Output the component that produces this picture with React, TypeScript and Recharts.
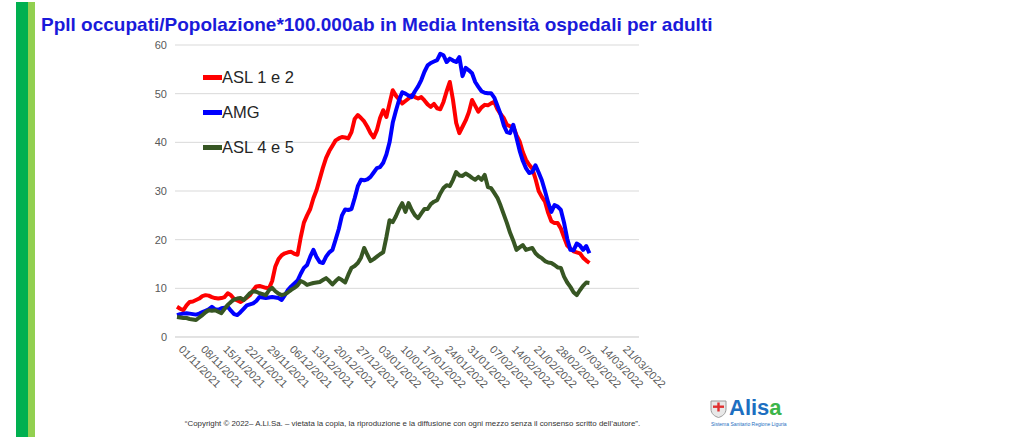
import React from 'react';
import { LineChart, Line, XAxis, YAxis, CartesianGrid, Legend } from 'recharts';

// daily categories 01/11/2021 .. 26/03/2022 (axis runs a bit past the data)
const FIRST_DAY = Date.UTC(2021, 10, 1);
const DAY_COUNT = 146;

const tickLabels = [
    '01/11/2021', '08/11/2021', '15/11/2021', '22/11/2021', '29/11/2021', '06/12/2021', '13/12/2021',
    '20/12/2021', '27/12/2021', '03/01/2022', '10/01/2022', '17/01/2022', '24/01/2022', '31/01/2022',
    '07/02/2022', '14/02/2022', '21/02/2022', '28/02/2022', '07/03/2022', '14/03/2022', '21/03/2022'
];

const yTicks = [0, 10, 20, 30, 40, 50, 60];

const asl12 = [
    6.2, 5.8, 5.5, 6.5, 7.2, 7.3, 7.6, 7.9, 8.4, 8.6, 8.5, 8.2, 8.0, 7.9, 8.0, 8.2, 9.0, 8.6, 7.8, 7.5,
    7.2, 7.6, 8.1, 8.6, 9.6, 10.4, 10.5, 10.3, 10.1, 10.0, 11.5, 14.5, 16.0, 16.8, 17.2, 17.4, 17.5, 17.1, 16.9, 20.5,
    23.5, 25.0, 26.3, 28.5, 30.2, 32.5, 34.8, 36.8, 38.2, 39.3, 40.4, 40.8, 41.1, 41.0, 40.8, 42.1, 44.8, 45.6, 45.0, 44.3,
    43.2, 41.9, 41.0, 42.5, 45.0, 46.6, 45.2, 48.0, 50.7, 49.6, 48.8, 48.0, 48.5, 49.0, 49.7, 49.3, 49.0, 49.3, 48.6, 47.8,
    47.3, 47.9, 47.0, 46.8, 48.3, 50.5, 52.4, 48.7, 44.0, 41.9, 43.2, 44.5, 46.2, 48.7, 47.5, 46.3, 47.2, 47.7, 47.6, 48.0,
    48.3, 46.8, 45.8, 45.0, 43.6, 43.3, 43.2, 41.5, 40.2, 38.0, 36.4, 35.4, 34.6, 32.5, 30.0, 28.8, 27.8, 25.5, 23.8, 23.4,
    23.4, 22.3, 20.5, 18.8, 18.2, 17.6, 17.4, 17.2, 16.3, 15.7, 15.2
];

const amg = [
    4.5, 4.7, 4.8, 4.9, 4.8, 4.7, 4.6, 4.8, 5.1, 5.4, 5.7, 6.2, 5.7, 5.6, 5.9, 6.0, 6.2, 5.4, 4.7, 4.5,
    5.1, 5.8, 6.5, 6.7, 6.9, 7.4, 8.2, 8.1, 8.0, 8.1, 8.2, 8.1, 8.0, 7.6, 8.6, 9.7, 10.4, 11.0, 11.6, 13.0,
    14.2, 14.8, 16.5, 17.9, 16.4, 15.4, 15.2, 16.5, 17.4, 17.9, 20.0, 22.2, 25.0, 26.2, 26.1, 26.3, 28.5, 31.0, 32.3, 32.2,
    32.4, 32.9, 33.8, 34.7, 34.9, 35.8, 37.5, 40.0, 44.0, 46.5, 48.7, 50.3, 50.0, 49.6, 49.3, 50.5, 51.5, 52.8, 54.5, 55.8,
    56.3, 56.6, 56.9, 58.2, 57.9, 56.5, 57.2, 56.8, 56.5, 57.5, 53.6, 55.3, 54.8, 54.2, 52.4, 51.4, 50.5, 50.2, 50.1, 50.1,
    49.2, 47.5, 45.8, 43.5, 42.1, 41.9, 43.6, 41.0, 38.3, 36.2, 34.7, 33.7, 33.9, 35.3, 33.8, 32.2, 30.0, 27.6, 25.7, 27.1,
    26.8, 26.1, 23.5, 20.2, 17.9, 17.8, 19.2, 18.8, 17.9, 18.7, 17.2
];

const asl45 = [
    4.1, 4.0, 3.9, 3.9, 3.7, 3.6, 3.5, 4.0, 4.5, 5.1, 5.5, 5.4, 5.5, 5.2, 4.9, 5.8, 6.6, 7.2, 7.7, 7.9,
    8.0, 7.6, 8.3, 9.0, 9.4, 9.3, 9.0, 8.8, 8.6, 9.6, 10.1, 9.4, 8.9, 8.6, 8.8, 9.2, 9.7, 10.1, 10.6, 11.5,
    11.2, 10.7, 10.9, 11.1, 11.2, 11.3, 11.7, 12.1, 11.5, 10.8, 11.5, 12.1, 11.7, 11.2, 12.8, 14.2, 14.6, 15.2, 16.3, 18.3,
    16.9, 15.6, 16.0, 16.5, 17.0, 17.4, 20.5, 24.0, 23.6, 24.8, 26.3, 27.5, 25.7, 27.5, 26.1, 25.0, 24.4, 25.4, 26.3, 26.3,
    27.3, 27.8, 28.1, 29.5, 30.6, 31.2, 31.0, 32.3, 33.9, 33.2, 33.1, 33.6, 33.2, 32.7, 32.3, 32.9, 32.3, 33.3, 30.8, 30.6,
    29.6, 28.6, 27.0, 25.2, 23.4, 21.4, 19.8, 17.9, 18.4, 18.9, 17.9, 18.1, 18.3, 17.2, 16.6, 16.2, 15.6, 15.3, 15.2, 14.8,
    14.3, 14.2, 12.4, 11.2, 10.3, 9.2, 8.6, 9.6, 10.5, 11.2, 11.1
];

const seriesNames = ['ASL 1 e 2', 'AMG', 'ASL 4 e 5'];
const seriesColors = ['#ff0000', '#0000ff', '#375623'];

const pad = (n: number) => (n < 10 ? '0' + n : '' + n);

const data = Array.from({ length: DAY_COUNT }, (_, i) => {
    const d = new Date(FIRST_DAY + i * 86400000);
    return {
        date: `${pad(d.getUTCDate())}/${pad(d.getUTCMonth() + 1)}/${d.getUTCFullYear()}`,
        asl12: asl12[i] ?? null,
        amg: amg[i] ?? null,
        asl45: asl45[i] ?? null
    };
});

const font = '"Liberation Sans", Arial, sans-serif';

const DateTick = ({ x, y, payload }: any) => (
    <g transform={`translate(${x + 1},${y + 5}) rotate(45)`}>
        <text x={0} y={0} textAnchor="start" fontSize={11} fill="#595959" fontFamily={font}>
            {payload.value}
        </text>
    </g>
);

const LegendBox = () => (
    <div style={{ fontFamily: font, fontSize: 16.5, color: '#262626' }}>
        {seriesNames.map((name, i) => (
            <div key={name} style={{ display: 'flex', alignItems: 'center', height: 35 }}>
                <span style={{ display: 'inline-block', width: 19, height: 5, background: seriesColors[i] }} />
                <span style={{ whiteSpace: 'nowrap' }}>{name}</span>
            </div>
        ))}
    </div>
);

export default function App() {
    return (
        <div style={{ position: 'absolute', left: 0, top: 0, width: 1024, height: 443, background: '#fff', overflow: 'hidden' }}>
            <div style={{ position: 'absolute', left: 16, top: 2, width: 12, height: 435, background: '#00b050' }} />
            <div style={{ position: 'absolute', left: 28, top: 2, width: 7, height: 435, background: '#92d050' }} />
            <div style={{
                position: 'absolute', left: 41, top: 13, fontFamily: font, fontWeight: 'bold', fontSize: 19,
                lineHeight: '23px', color: '#1a1ada', whiteSpace: 'nowrap'
            }}>
                Ppll occupati/Popolazione*100.000ab in Media Intensità ospedali per adulti
            </div>

            <div style={{ position: 'absolute', left: 0, top: 0 }}>
                <LineChart width={700} height={400} data={data} margin={{ top: 45, right: 61, bottom: 3, left: 145 }}>
                    <CartesianGrid vertical={false} stroke="#d9d9d9" />
                    <XAxis
                        dataKey="date"
                        ticks={tickLabels}
                        interval={0}
                        tick={<DateTick />}
                        tickLine={false}
                        axisLine={{ stroke: '#d9d9d9' }}
                        height={60}
                        padding={{ left: 2, right: 2 }}
                    />
                    <YAxis
                        width={30}
                        domain={[0, 60]}
                        ticks={yTicks}
                        axisLine={false}
                        tickLine={false}
                        tick={{ fontSize: 11, fill: '#595959', fontFamily: font }}
                    />
                    <Legend
                        layout="vertical"
                        align="center"
                        verticalAlign="middle"
                        content={<LegendBox />}
                        wrapperStyle={{ left: 203, top: 60, width: 'auto', height: 'auto' }}
                    />
                    <Line dataKey="asl12" name={seriesNames[0]} stroke={seriesColors[0]} strokeWidth={4} dot={false} strokeLinejoin="round" isAnimationActive={false} />
                    <Line dataKey="amg" name={seriesNames[1]} stroke={seriesColors[1]} strokeWidth={4} dot={false} strokeLinejoin="round" isAnimationActive={false} />
                    <Line dataKey="asl45" name={seriesNames[2]} stroke={seriesColors[2]} strokeWidth={4} dot={false} strokeLinejoin="round" isAnimationActive={false} />
                </LineChart>
            </div>

            <div style={{
                position: 'absolute', left: 160, top: 419, width: 505, textAlign: 'center', fontFamily: font,
                fontSize: 7.9, color: '#333', whiteSpace: 'nowrap'
            }}>
                “Copyright © 2022– A.Li.Sa. – vietata la copia, la riproduzione e la diffusione con ogni mezzo senza il consenso scritto dell’autore”.
            </div>

            <svg style={{ position: 'absolute', left: 710, top: 400 }} width={17} height={18} viewBox="0 0 17 18">
                <path d="M1 1 H16 V9 C16 14 12 16.5 8.5 17.5 C5 16.5 1 14 1 9 Z" fill="#e8e8e8" stroke="#9a9a9a" strokeWidth={1} />
                <rect x={7.3} y={2.5} width={2.4} height={9} fill="#e03030" />
                <rect x={3} y={5.5} width={11} height={2.4} fill="#e03030" />
            </svg>
            <div style={{ position: 'absolute', left: 729, top: 395, fontFamily: font, fontWeight: 'bold', fontSize: 22, lineHeight: '26px' }}>
                <span style={{ color: '#1d6fc1' }}>Alis</span><span style={{ color: '#3cb54a' }}>a</span>
            </div>
            <div style={{
                position: 'absolute', left: 711, top: 421, fontFamily: font, fontSize: 5, color: '#1d6fc1', whiteSpace: 'nowrap'
            }}>
                Sistema Sanitario Regione Liguria
            </div>
        </div>
    );
}
